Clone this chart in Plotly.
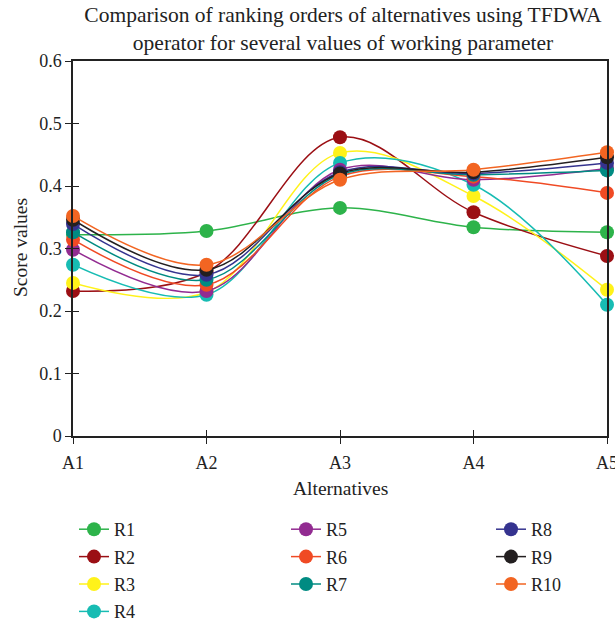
import plotly.graph_objects as go

categories = ["A1", "A2", "A3", "A4", "A5"]
series_names = ["R1", "R2", "R3", "R4", "R5", "R6", "R7", "R8", "R9", "R10"]
R1 = [0.322, 0.328, 0.365, 0.334, 0.326]
R2 = [0.232, 0.262, 0.478, 0.358, 0.288]
R3 = [0.245, 0.230, 0.453, 0.384, 0.234]
R4 = [0.274, 0.226, 0.437, 0.402, 0.210]
R5 = [0.298, 0.232, 0.426, 0.410, 0.428]
R6 = [0.314, 0.242, 0.415, 0.415, 0.389]
R7 = [0.326, 0.250, 0.418, 0.418, 0.425]
R8 = [0.339, 0.258, 0.422, 0.420, 0.437]
R9 = [0.346, 0.266, 0.420, 0.422, 0.446]
R10 = [0.352, 0.274, 0.410, 0.426, 0.454]
series_values = [R1, R2, R3, R4, R5, R6, R7, R8, R9, R10]
colors = ["#2db34a", "#9b0f14", "#fff21a", "#17bcb3", "#922b91",
          "#f04a24", "#008b82", "#35338f", "#231f20", "#f26522"]
legend_ids = ["legend", "legend", "legend", "legend",
              "legend2", "legend2", "legend2",
              "legend3", "legend3", "legend3"]
y_ticks = [0, 0.1, 0.2, 0.3, 0.4, 0.5, 0.6]
y_tick_labels = ["0", "0.1", "0.2", "0.3", "0.4", "0.5", "0.6"]
x_title = "Alternatives"
y_title = "Score values"
chart_title = ("Comparison of ranking orders of alternatives using TFDWA<br>"
               "operator for several values of working parameter")

FONT = "Liberation Serif"
W, H = 615, 629
ML, MR, MT, MB = 73, 8, 61, 193
PW, PH = W - ML - MR, H - MT - MB

fig = go.Figure()
for name, vals, col, lg in zip(series_names, series_values, colors, legend_ids):
    fig.add_trace(go.Scatter(
        x=categories, y=vals, name=name, mode="lines+markers",
        line=dict(color=col, width=1.5, shape="spline", smoothing=1),
        marker=dict(color=col, size=14),
        cliponaxis=False, legend=lg, legendgroup=name,
    ))

tick_font = dict(family=FONT, size=18, color="#222")
title_font = dict(family=FONT, size=19.5, color="#222")
legend_common = dict(font=dict(family=FONT, size=18, color="#222"),
                     orientation="v", xanchor="left", yanchor="top",
                     xref="container", yref="container",
                     bgcolor="rgba(0,0,0,0)", tracegroupgap=1,
                     itemwidth=30)
leg_top = 1 - 511 / H

axis_common = dict(showgrid=False, zeroline=False, tickcolor="#222",
                   tickwidth=1.2, ticklen=6, automargin=False)

fig.update_layout(
    width=W, height=H,
    margin=dict(l=ML, r=MR, t=MT, b=MB, autoexpand=False),
    plot_bgcolor="white", paper_bgcolor="white",
    title=dict(text=chart_title,
               x=343 / W, xref="container", xanchor="center",
               y=1 - 22 / H, yref="container", yanchor="middle",
               font=dict(family=FONT, size=21.5, color="#222")),
    xaxis=dict(type="category", range=[0, 4], showline=True, linecolor="#222",
               linewidth=1.5, mirror=True, ticks="outside",
               tickfont=tick_font, ticklabelstandoff=4, **axis_common),
    yaxis=dict(range=[0, 0.6], showline=True, linecolor="#222", linewidth=1.5,
               mirror=True, ticks="outside", tickvals=y_ticks,
               ticktext=y_tick_labels, tickfont=tick_font, **axis_common),
    xaxis2=dict(overlaying="x", type="category", range=[0, 4], showline=False,
                ticks="inside", showticklabels=False, side="bottom", **axis_common),
    yaxis2=dict(overlaying="y", range=[0, 0.6], showline=False, ticks="inside",
                showticklabels=False, tickvals=y_ticks, side="left", **axis_common),
    legend=dict(x=74 / W, y=leg_top, **legend_common),
    legend2=dict(x=286 / W, y=leg_top, **legend_common),
    legend3=dict(x=491 / W, y=leg_top, **legend_common),
    annotations=[
        dict(text=x_title, xref="paper", yref="paper",
             x=(340 - ML) / PW, y=(MT + PH - 488) / PH,
             xanchor="center", yanchor="middle", showarrow=False, font=title_font),
        dict(text=y_title, xref="paper", yref="paper",
             x=(20 - ML) / PW, y=(MT + PH - 248) / PH, textangle=-90,
             xanchor="center", yanchor="middle", showarrow=False, font=title_font),
    ],
)

# invisible trace to materialize overlay axes (inside half of cross ticks)
fig.add_trace(go.Scatter(x=categories, y=[0, 0, 0, 0, 0], xaxis="x2", yaxis="y2",
                         mode="markers", marker=dict(opacity=0),
                         showlegend=False, hoverinfo="skip"))

# remove the default 8px page margin so the figure fills the window exactly
fig.write_html("out.html", config={"displayModeBar": False},
               post_script="document.body.style.margin='0';")
